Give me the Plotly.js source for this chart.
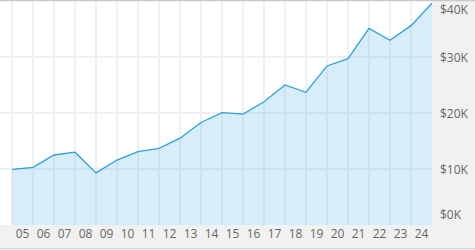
<!DOCTYPE html>
<html>
<head>
<meta charset="utf-8">
<script src="https://cdn.plot.ly/plotly-3.0.1.min.js"></script>
<style>
  html, body { margin: 0; padding: 0; background: #f1f1f1; }
  #chart { width: 475px; height: 250px; }
</style>
</head>
<body>
<div id="chart"></div>
<script>
// Year-end points (x) and values in dollars
const years = [2005, 2006, 2007, 2008, 2009, 2010, 2011, 2012, 2013, 2014, 2015,
               2016, 2017, 2018, 2019, 2020, 2021, 2022, 2023, 2024, 2025];
const values = [9950, 10300, 12500, 13000, 9300, 11600, 13100, 13700, 15500, 18300, 20050,
                19800, 22000, 25000, 23700, 28400, 29700, 35100, 33000, 35600, 39600];

// X tick labels (centred within each year)
const xTickPos = [2005.5, 2006.5, 2007.5, 2008.5, 2009.5, 2010.5, 2011.5, 2012.5, 2013.5, 2014.5,
                  2015.5, 2016.5, 2017.5, 2018.5, 2019.5, 2020.5, 2021.5, 2022.5, 2023.5, 2024.5];
const xTickText = ['05', '06', '07', '08', '09', '10', '11', '12', '13', '14',
                   '15', '16', '17', '18', '19', '20', '21', '22', '23', '24'];

// Y gridlines and labels
const yGridVals = [0, 10000, 20000, 30000, 40000];
const yLabelText = ['$0K', '$10K', '$20K', '$30K', '$40K'];
const yLabelPos = [1800, 10000, 20000, 30000, 38400];

const trace = {
  x: years,
  y: values,
  type: 'scatter',
  mode: 'lines',
  line: { color: '#2aa2df', width: 1.3 },
  fill: 'tozeroy',
  fillcolor: 'rgba(42,162,223,0.19)',
  hoverinfo: 'skip',
  cliponaxis: false
};

const yLabels = yLabelText.map((t, i) => ({
  text: t,
  xref: 'paper', yref: 'y',
  x: 1, y: yLabelPos[i],
  xanchor: 'left', yanchor: 'middle',
  xshift: 6,
  showarrow: false,
  font: { family: 'Open Sans, sans-serif', size: 12, color: '#666666' }
}));

const layout = {
  width: 475,
  height: 250,
  margin: { l: 0, r: 43, t: 1, b: 25 },
  paper_bgcolor: '#f1f1f1',
  plot_bgcolor: '#ffffff',
  showlegend: false,
  font: { family: 'Open Sans, sans-serif', size: 12, color: '#666666' },
  xaxis: {
    range: [2005 - 12 / 21, 2025],
    tickmode: 'array',
    tickvals: xTickPos,
    ticktext: xTickText,
    showgrid: false,
    zeroline: false,
    showline: false,
    ticks: '',
    ticklabelstandoff: 0,
    tickfont: { size: 12, color: '#666666' },
    minor: { tickmode: 'linear', tick0: 2005, dtick: 1, showgrid: true, gridcolor: '#f0f0f0', gridwidth: 1.5, ticks: '' },
    fixedrange: true
  },
  yaxis: {
    range: [0, 40000],
    side: 'right',
    tickmode: 'array',
    tickvals: yGridVals,
    showticklabels: false,
    showgrid: true,
    gridcolor: '#f0f0f0',
    gridwidth: 1.5,
    zeroline: false,
    ticks: '',
    fixedrange: true
  },
  annotations: yLabels,
  shapes: [
    { type: 'line', xref: 'paper', yref: 'paper', x0: 0, x1: 1.1, y0: 1.0022, y1: 1.0022,
      line: { color: '#c8c8c8', width: 1.5 } },
    { type: 'line', xref: 'paper', yref: 'paper', x0: 0, x1: 1.1, y0: -0.1049, y1: -0.1049,
      line: { color: '#d2d2d2', width: 1 } }
  ]
};

Plotly.newPlot('chart', [trace], layout, { displayModeBar: false, staticPlot: true });
</script>
</body>
</html>
